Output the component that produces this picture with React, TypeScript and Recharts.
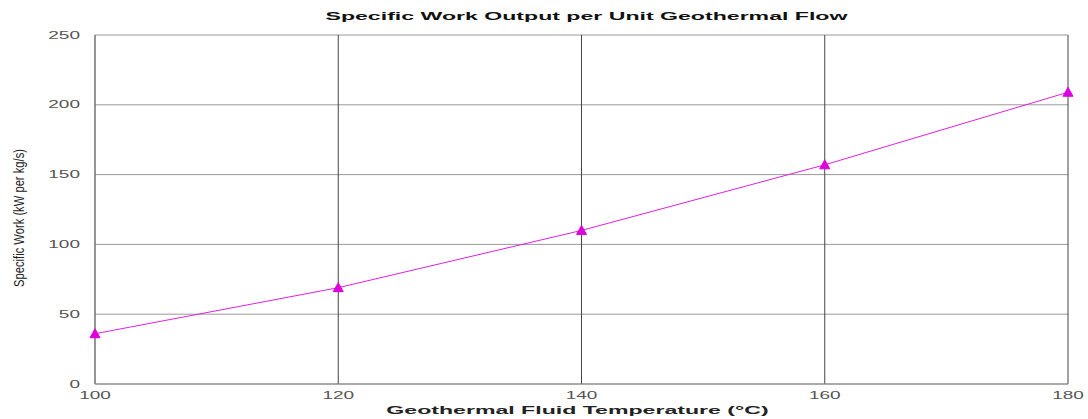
import React from "react";
import { LineChart, Line, XAxis, YAxis, CartesianGrid } from "recharts";

const temperatures = [100, 120, 140, 160, 180];
const specificWork = [36, 69, 110, 157, 209];
const xTicks = [100, 120, 140, 160, 180];
const yTicks = [0, 50, 100, 150, 200, 250];

const data = temperatures.map((t, i) => ({ t, w: specificWork[i] }));

const FONT = "'Liberation Sans', Arial, Helvetica, sans-serif";

const Triangle = (props: any) => {
  const { cx, cy } = props;
  if (cx == null || cy == null) return null;
  const s = 5;
  return (
    <polygon
      points={`${cx},${cy - s} ${cx - s},${cy + s * 0.8} ${cx + s},${cy + s * 0.8}`}
      fill="#dd00dd"
      stroke="#dd00dd"
    />
  );
};

const XTick = (props: any) => {
  const { x, y, payload } = props;
  return (
    <text
      transform={`translate(${x},${y}) scale(1.9,1)`}
      textAnchor="middle"
      dy="0.71em"
      fill="#555"
      fontSize={10}
      fontFamily={FONT}
    >
      {payload.value}
    </text>
  );
};

const YTick = (props: any) => {
  const { y, payload } = props;
  return (
    <text
      transform={`translate(80,${y}) scale(1.9,1)`}
      textAnchor="end"
      dy="0.355em"
      fill="#555"
      fontSize={10}
      fontFamily={FONT}
    >
      {payload.value}
    </text>
  );
};

export default function App() {
  return (
    <div style={{ position: "absolute", left: 0, top: 0, width: 1088, height: 419, background: "#fff" }}>
      <div
        style={{
          position: "absolute",
          left: 100,
          width: 973,
          top: 10,
          textAlign: "center",
          fontFamily: FONT,
          fontWeight: "bold",
          fontSize: 11,
          lineHeight: "13px",
          color: "#111",
          transform: "scaleX(2.1)",
          transformOrigin: "center",
        }}
      >
        Specific Work Output per Unit Geothermal Flow
      </div>
      <div
        style={{
          position: "absolute",
          left: 91,
          width: 973,
          top: 404,
          textAlign: "center",
          fontFamily: FONT,
          fontWeight: "bold",
          fontSize: 11,
          lineHeight: "13px",
          color: "#222",
          transform: "scaleX(2.1)",
          transformOrigin: "center",
        }}
      >
        Geothermal Fluid Temperature (°C)
      </div>
      <div
        style={{
          position: "absolute",
          left: 19 - 100,
          top: 218 - 8,
          width: 200,
          height: 16,
          lineHeight: "16px",
          textAlign: "center",
          fontFamily: FONT,
          fontSize: 14,
          color: "#222",
          transform: "rotate(-90deg) scaleX(0.8)",
          transformOrigin: "center",
          whiteSpace: "nowrap",
        }}
      >
        Specific Work (kW per kg/s)
      </div>
      <LineChart width={1088} height={419} data={data} margin={{ top: 35, right: 20, bottom: 0, left: 0 }}>
        <CartesianGrid horizontal={true} vertical={false} stroke="#999" />
        <CartesianGrid horizontal={false} vertical={true} stroke="#444" />
        <XAxis
          dataKey="t"
          type="number"
          domain={[100, 180]}
          ticks={xTicks}
          height={35}
          tickLine={false}
          axisLine={{ stroke: "#888" }}
          tick={<XTick />}
        />
        <YAxis
          type="number"
          domain={[0, 250]}
          ticks={yTicks}
          width={95}
          tickLine={false}
          axisLine={{ stroke: "#888" }}
          tick={<YTick />}
        />
        <Line
          dataKey="w"
          stroke="#e020e0"
          strokeWidth={1}
          dot={<Triangle />}
          activeDot={false}
          isAnimationActive={false}
        />
      </LineChart>
    </div>
  );
}
